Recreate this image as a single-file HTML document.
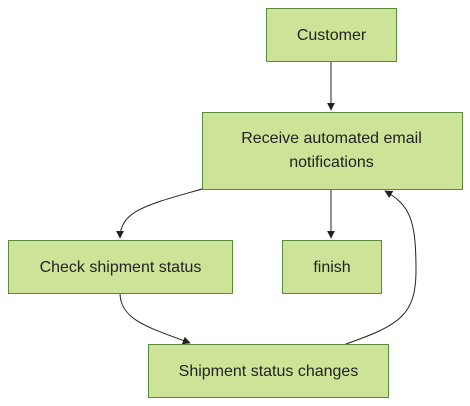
<!DOCTYPE html>
<html><head><style>
body{margin:0;width:470px;height:406px;background:#fff;overflow:hidden}
svg{display:block}
text{font-family:"Liberation Sans",sans-serif;font-size:16px;fill:#222}
rect{fill:#cde498;stroke:#5a8a3c;stroke-width:1}
path{fill:none;stroke:#222;stroke-width:1}
</style></head><body>
<svg width="470" height="406" viewBox="0 0 470 406">
<defs><marker id="a" viewBox="0 0 10 10" refX="9" refY="5" markerWidth="8" markerHeight="8" orient="auto"><path d="M0,0L10,5L0,10z" style="fill:#222;stroke:none"/></marker></defs>
<path d="M331,61V110" marker-end="url(#a)"/>
<path d="M331,189V238" marker-end="url(#a)"/>
<path d="M202,189C150,204 120,210 120,238" marker-end="url(#a)"/>
<path d="M120,293C120,320 150,328 190,343" marker-end="url(#a)"/>
<path d="M346,344C400,325 416,315 416,270C416,220 410,205 385,191" marker-end="url(#a)"/>
<rect x="266.5" y="8.5" width="130" height="53"/>
<text x="331.5" y="40" text-anchor="middle">Customer</text>
<rect x="202.5" y="112.5" width="260" height="77"/>
<text x="331.5" y="143" text-anchor="middle">Receive automated email</text>
<text x="331.5" y="167" text-anchor="middle">notifications</text>
<rect x="8.5" y="240.5" width="224" height="53"/>
<text x="120.5" y="272" text-anchor="middle">Check shipment status</text>
<rect x="282.5" y="240.5" width="99" height="53"/>
<text x="332" y="272" text-anchor="middle">finish</text>
<rect x="148.5" y="344.5" width="240" height="53"/>
<text x="268.5" y="376" text-anchor="middle">Shipment status changes</text>
</svg>
</body></html>
